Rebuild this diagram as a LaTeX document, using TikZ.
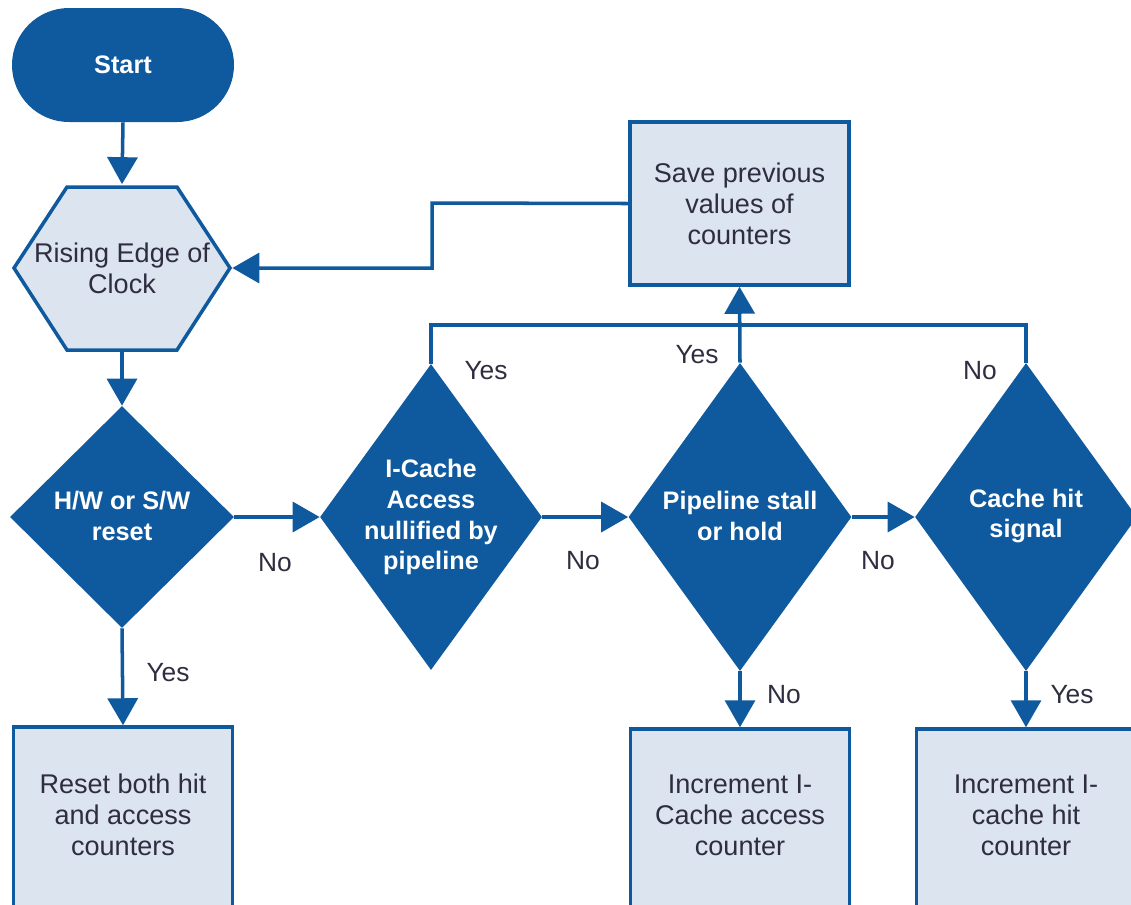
\documentclass[tikz,border=0pt]{standalone}
\usepackage{fontspec}
\setmainfont{Liberation Sans}
\usetikzlibrary{shapes.geometric,arrows.meta}
\definecolor{dblue}{HTML}{0F5A9E}
\definecolor{lfill}{HTML}{DCE4EF}
\definecolor{ltext}{HTML}{2E2E40}
\newcommand\pxu{0.02cm}
\begin{document}
\begin{tikzpicture}[x=0.02cm,y=-0.02cm,
  txt/.style={font=\fontsize{15.4}{17.6}\selectfont, align=center, text=ltext, inner sep=0pt},
  wtxt/.style={font=\fontsize{14.4}{17.6}\selectfont\bfseries, align=center, text=white, inner sep=0pt},
  lbl/.style={font=\fontsize{15}{17}\selectfont, text=ltext, inner sep=0pt},
  lbox/.style={draw=dblue, fill=lfill, line width=2pt, inner sep=0pt},
  dec/.style={diamond, fill=dblue, inner sep=0pt, aspect=1},
  conn/.style={draw=dblue, line width=2pt},
  arr/.style={conn, -{Triangle[width=0.6cm,length=0.54cm]}}
]
\clip (0,0) rectangle (1131,904);

% start
\node[fill=dblue, rounded corners=57*\pxu, minimum width=222*\pxu, minimum height=114*\pxu, wtxt] (start) at (123,65) {Start};

% hexagon
\filldraw[fill=lfill, draw=dblue, line width=2pt] (67,187) -- (177,187) -- (230,268) -- (177,350) -- (67,350) -- (14,268) -- cycle;
\node[minimum width=220*\pxu, minimum height=167*\pxu, txt] (hex) at (122,268) {Rising Edge of\\Clock};

% decisions
\node[dec, minimum width=224*\pxu, minimum height=222*\pxu] (d1) at (122,517) {};
\node[wtxt] (d1t) at (122,516) {H/W or S/W\\reset};
\node[dec, minimum width=222*\pxu, minimum height=306*\pxu] (d2) at (431,517) {};
\node[wtxt] (d2t) at (431,517) {I-Cache\\Access\\nullified by\\pipeline};
\node[dec, minimum width=223*\pxu, minimum height=308*\pxu] (d3) at (740,517) {};
\node[wtxt] (d3t) at (740,516) {Pipeline stall\\or hold};
\node[dec, minimum width=222*\pxu, minimum height=308*\pxu] (d4) at (1026,517) {};
\node[wtxt] (d4t) at (1026,516) {Cache hit\\signal};

% boxes
\node[lbox, minimum width=219*\pxu, minimum height=163*\pxu] (save) at (739.5,203.5) {};
\node[txt] (savet) at (739.5,204) {Save previous\\values of\\counters};
\node[lbox, minimum width=219*\pxu, minimum height=180*\pxu] (reset) at (123,817) {};
\node[txt] (resett) at (123,815) {Reset both hit\\and access\\counters};
\node[lbox, minimum width=219*\pxu, minimum height=180*\pxu] (acc) at (740,819) {};
\node[txt] (acct) at (740,815) {Increment I-\\Cache access\\counter};
\node[lbox, minimum width=219*\pxu, minimum height=180*\pxu] (hit) at (1026,819) {};
\node[txt] (hitt) at (1026,815) {Increment I-\\cache hit\\counter};

% connectors
\draw[arr] (start.south) -- (hex.north);
\draw[arr] (hex.south) -- (d1.north);
\draw[arr] (d1.south) -- (reset.north);
\draw[arr] (d1.east) -- (d2.west);
\draw[arr] (d2.east) -- (d3.west);
\draw[arr] (d3.east) -- (d4.west);
\draw[arr] (d3.south) -- (acc.north);
\draw[arr] (d4.south) -- (hit.north);
\coordinate (bus) at (740,325);
\draw[conn] (d2.north) |- (bus) -| (d4.north);
\draw[arr] (d3.north) -- (save.south);
\coordinate (jog) at (432,203);
\draw[arr] (save.west) -- (jog) |- (hex.east);

% labels
\node[lbl] (l1) at (168,673) {Yes};
\node[lbl] (l2) at (275,563) {No};
\node[lbl] (l3) at (486,371) {Yes};
\node[lbl] (l4) at (583,561) {No};
\node[lbl] (l5) at (697,355) {Yes};
\node[lbl] (l6) at (878,561) {No};
\node[lbl] (l7) at (980,371) {No};
\node[lbl] (l8) at (784,695) {No};
\node[lbl] (l9) at (1072,695) {Yes};
\end{tikzpicture}
\end{document}
